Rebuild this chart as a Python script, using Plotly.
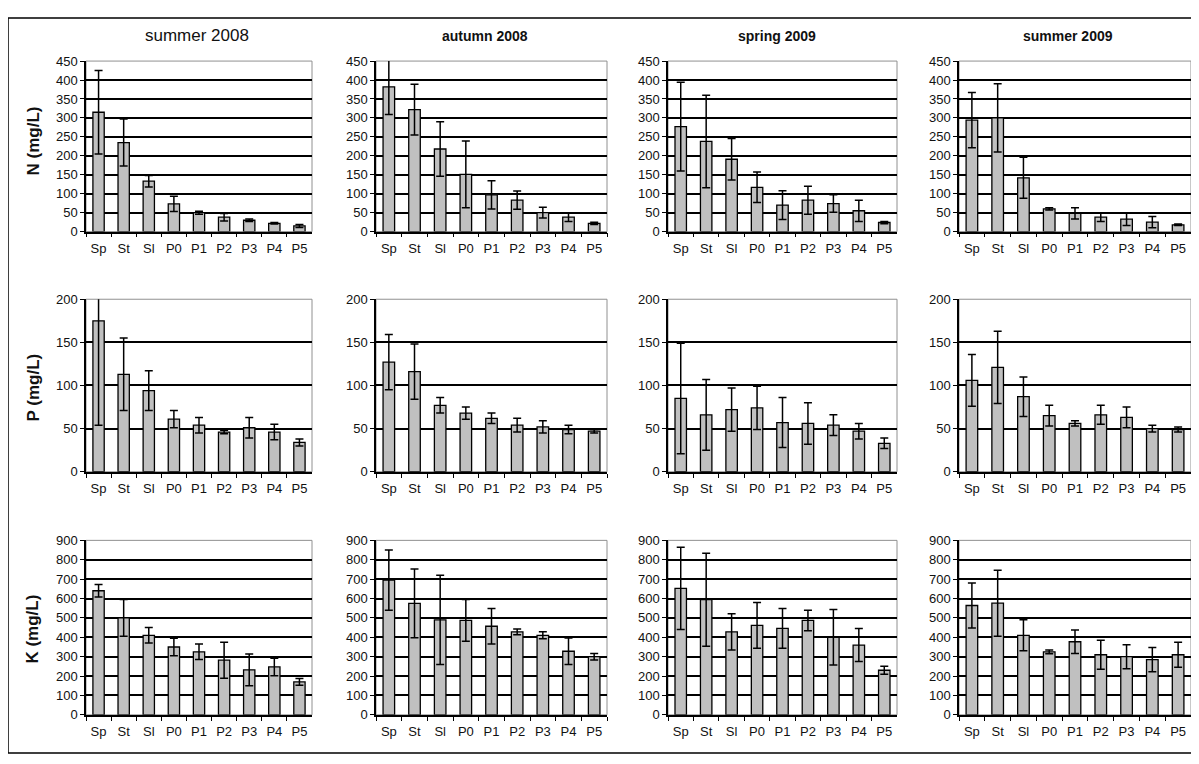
import plotly.graph_objects as go

# categories and panel titles
cats = ['Sp', 'St', 'Sl', 'P0', 'P1', 'P2', 'P3', 'P4', 'P5']
seasons = ['summer 2008', 'autumn 2008', 'spring 2009', 'summer 2009']

# N (mg/L): mean and error per season
n_su08 = [315, 235, 133, 73, 50, 38, 30, 22, 15]
n_su08_err = [110, 62, 15, 20, 4, 10, 3, 2, 4]
n_au08 = [382, 322, 218, 151, 97, 83, 50, 38, 22]
n_au08_err = [73, 67, 72, 88, 37, 24, 14, 11, 3]
n_sp09 = [277, 238, 191, 117, 70, 83, 74, 55, 24]
n_sp09_err = [117, 122, 55, 40, 38, 37, 23, 28, 3]
n_su09 = [294, 300, 142, 60, 48, 38, 33, 25, 18]
n_su09_err = [73, 90, 54, 3, 15, 11, 17, 15, 2]

# P (mg/L)
p_su08 = [175, 113, 94, 61, 54, 46, 51, 46, 34]
p_su08_err = [121, 42, 23, 10, 9, 2, 12, 9, 4]
p_au08 = [127, 116, 77, 68, 62, 54, 52, 49, 47]
p_au08_err = [32, 32, 9, 7, 6, 8, 7, 5, 2]
p_sp09 = [85, 66, 72, 74, 57, 56, 54, 47, 33]
p_sp09_err = [64, 41, 25, 25, 29, 24, 12, 9, 6]
p_su09 = [106, 121, 87, 65, 56, 66, 63, 50, 49]
p_su09_err = [30, 42, 23, 12, 3, 11, 12, 4, 3]

# K (mg/L)
k_su08 = [640, 500, 410, 350, 325, 282, 232, 247, 170]
k_su08_err = [32, 95, 40, 45, 40, 93, 82, 45, 18]
k_au08 = [695, 575, 490, 487, 457, 428, 410, 328, 300]
k_au08_err = [155, 177, 230, 108, 92, 15, 18, 68, 17]
k_sp09 = [652, 594, 428, 462, 446, 487, 400, 360, 230]
k_sp09_err = [212, 240, 93, 118, 103, 53, 143, 85, 20]
k_su09 = [564, 576, 410, 325, 377, 310, 300, 285, 310]
k_su09_err = [116, 170, 80, 10, 60, 75, 62, 63, 65]

rows = [
    ('N (mg/L)', 450, 50, [(n_su08, n_su08_err), (n_au08, n_au08_err), (n_sp09, n_sp09_err), (n_su09, n_su09_err)]),
    ('P (mg/L)', 200, 50, [(p_su08, p_su08_err), (p_au08, p_au08_err), (p_sp09, p_sp09_err), (p_su09, p_su09_err)]),
    ('K (mg/L)', 900, 100, [(k_su08, k_su08_err), (k_au08, k_au08_err), (k_sp09, k_sp09_err), (k_su09, k_su09_err)]),
]

# page has an 8px body margin, so the figure starts at (8, 8)
OFF = 8
W, H = 1199 - OFF, 764 - OFF
col_px = [(86, 312), (376, 607), (668, 897), (959, 1191)]
row_px = [(55, 229), (298, 474), (544, 722)]
ytitle_y = [137, 388, 635]


def px(x):
    return (x - OFF) / W


def py(y):
    return 1 - (y - OFF) / H


FONT = 'Liberation Sans, Arial, sans-serif'
fig = go.Figure()
shapes = []
annotations = []
axes = {}

for r, (label, ymax, dtick, panels) in enumerate(rows):
    for c, (vals, errs) in enumerate(panels):
        i = r * 4 + c + 1
        sfx = '' if i == 1 else str(i)
        fig.add_trace(go.Bar(
            x=cats, y=vals, width=0.45,
            error_y=dict(type='data', array=errs, color='black', thickness=1.5, width=4),
            marker=dict(color='#c0c0c0', line=dict(color='black', width=1.3)),
            xaxis='x' + sfx, yaxis='y' + sfx, showlegend=False,
        ))
        x0, x1 = col_px[c]
        y0, y1 = row_px[r]
        axes['xaxis' + sfx] = dict(
            domain=[px(x0), px(x1)], anchor='y' + sfx,
            showline=True, linecolor='black', linewidth=1.5,
            ticks='outside', ticklen=4, tickcolor='black', tickwidth=1.3,
            tickson='boundaries', showgrid=False, tickangle=0, ticklabelstandoff=4,
            tickfont=dict(size=13, color='#111', family=FONT),
        )
        axes['yaxis' + sfx] = dict(
            domain=[py(y1), py(y0)], anchor='x' + sfx,
            range=[0, ymax], dtick=dtick, tick0=0,
            showline=True, linecolor='black', linewidth=1.5,
            ticks='outside', ticklen=4, tickcolor='black', tickwidth=1.3,
            showgrid=True, gridcolor='black', gridwidth=1.5, zeroline=False,
            tickfont=dict(size=13, color='#111', family=FONT),
        )
        # grey plot-area frame (Excel style)
        shapes.append(dict(type='rect', xref='x' + sfx + ' domain', yref='y' + sfx + ' domain',
                           x0=0, x1=1, y0=0, y1=1, line=dict(color='#909090', width=1), layer='below'))
    annotations.append(dict(text='<b>' + label + '</b>', x=px(33), y=py(ytitle_y[r]),
                            xref='paper', yref='paper', xanchor='center', yanchor='middle',
                            textangle=-90, showarrow=False,
                            font=dict(size=17, color='#111', family=FONT)))

# column titles
title_x = [197, 485, 777, 1068]
for c, name in enumerate(seasons):
    if c == 0:
        txt, size = name, 17
    else:
        txt, size = '<b>' + name + '</b>', 14
    annotations.append(dict(text=txt, x=px(title_x[c]), y=py(29), xref='paper', yref='paper',
                            xanchor='center', yanchor='middle', showarrow=False,
                            font=dict(size=size, color='#111', family=FONT)))

# outer frame
shapes.append(dict(type='rect', xref='paper', yref='paper', x0=px(8), x1=px(1195),
                   y0=py(761), y1=py(11), line=dict(color='black', width=1.5)))

fig.update_layout(
    width=W, height=H, margin=dict(l=0, r=0, t=0, b=0),
    paper_bgcolor='white', plot_bgcolor='white',
    font=dict(family=FONT, color='#111'),
    shapes=shapes, annotations=annotations,
    **axes,
)

fig.write_html('out.html')
